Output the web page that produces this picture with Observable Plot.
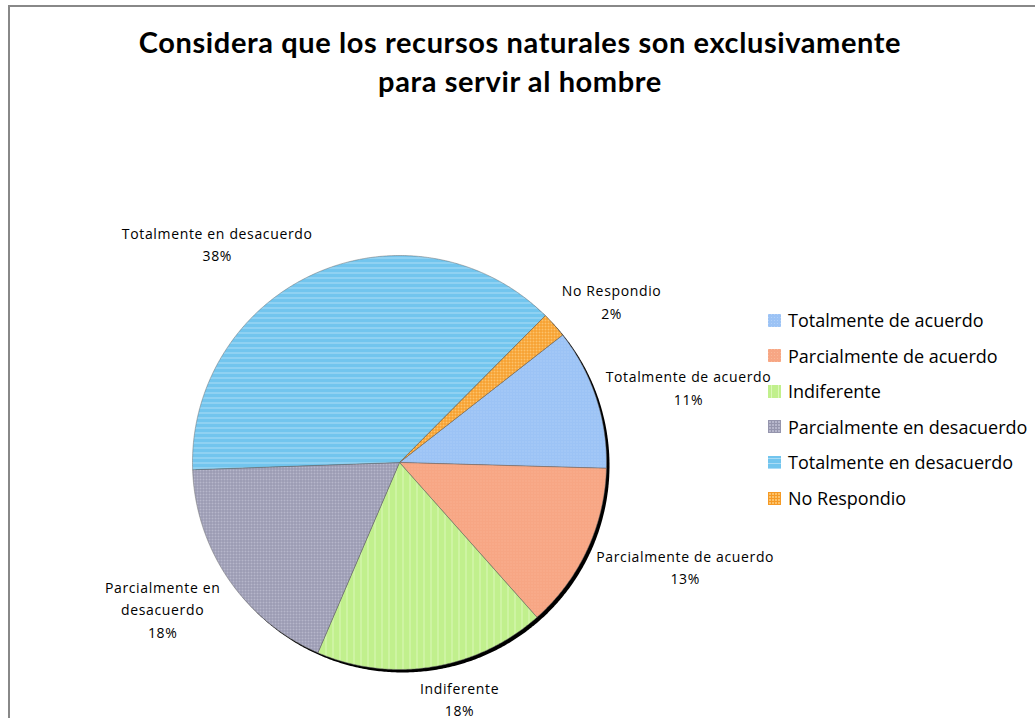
<!DOCTYPE html>
<html>
<head>
<meta charset="utf-8">
<script src="https://cdn.jsdelivr.net/npm/d3@7"></script>
<script src="https://cdn.jsdelivr.net/npm/@observablehq/plot@0.6"></script>
<style>
  html, body { margin: 0; padding: 0; width: 1035px; height: 718px; overflow: hidden; background: #fff; }
  #frame { position: absolute; left: 8px; top: 5px; width: 1100px; height: 800px; border-left: 2px solid #888; border-top: 2px solid #888; box-sizing: border-box; }
  #title { position: absolute; left: 0; width: 1040px; top: 22px; text-align: center; font-family: Lato, "Open Sans", sans-serif; font-weight: 700; font-size: 29px; letter-spacing: 0.6px; line-height: 39px; color: #000; }
  #chart { position: absolute; left: 0; top: 0; }
  #chart text { letter-spacing: 0.65px; }
  #legend { position: absolute; left: 0; top: 0; font-family: "Open Sans", sans-serif; font-size: 18px; color: #000; }
  .row { position: absolute; left: 768px; height: 24px; display: flex; align-items: center; white-space: nowrap; }
  .row svg { margin-right: 7px; }
</style>
</head>
<body>
<svg width="0" height="0" style="position:absolute">
  <defs>
    <pattern id="p0" patternUnits="userSpaceOnUse" width="3" height="3">
      <rect width="3" height="3" fill="#9cc3f5"/>
      <rect width="1" height="1" fill="#b3d1f8"/>
    </pattern>
    <pattern id="p1" patternUnits="userSpaceOnUse" width="3" height="3">
      <rect width="3" height="3" fill="#f7a684"/>
      <rect width="1" height="1" fill="#f9b797"/>
    </pattern>
    <pattern id="p2" patternUnits="userSpaceOnUse" width="7" height="7">
      <rect width="7" height="7" fill="#c1f08d"/>
      <rect x="3" width="1" height="7" fill="#dbf8b8"/>
    </pattern>
    <pattern id="p3" patternUnits="userSpaceOnUse" width="3" height="3">
      <rect width="3" height="3" fill="#b6b6cb"/>
      <rect width="3" height="1" fill="#9595ad"/>
      <rect width="1" height="3" fill="#9595ad"/>
    </pattern>
    <pattern id="p4" patternUnits="userSpaceOnUse" width="5" height="5">
      <rect width="5" height="5" fill="#72c5ee"/>
      <rect y="2" width="5" height="1" fill="#abdcf6"/>
    </pattern>
    <pattern id="p5" patternUnits="userSpaceOnUse" width="3" height="3">
      <rect width="3" height="3" fill="#fcc26a"/>
      <rect width="3" height="1" fill="#f59a25"/>
      <rect width="1" height="3" fill="#f59a25"/>
    </pattern>
  </defs>
</svg>
<div id="frame"></div>
<div id="title">Considera que los recursos naturales son exclusivamente<br>para servir al hombre</div>
<div id="chart"></div>
<div id="legend"></div>
<script>
// ---- data ----
const categories = ["Totalmente de acuerdo", "Parcialmente de acuerdo", "Indiferente", "Parcialmente en desacuerdo", "Totalmente en desacuerdo", "No Respondio"];
const percentages = [11, 13, 18, 18, 38, 2];
const sliceLabels = ["Totalmente de acuerdo", "Parcialmente de acuerdo", "Indiferente", "Parcialmente en\ndesacuerdo", "Totalmente en desacuerdo", "No Respondio"];
const patterns = ["url(#p0)", "url(#p1)", "url(#p2)", "url(#p3)", "url(#p4)", "url(#p5)"];

// ---- layout ----
const W = 1035, H = 718;
const cx = 399, cy = 462, R = 207;
const startDeg = 52;
const labelFont = 14, lineH = 1.6, spacing = 0.65;

const arcs = d3.pie().sort(null).value(d => d)
  .startAngle(startDeg * Math.PI / 180)
  .endAngle(startDeg * Math.PI / 180 + 2 * Math.PI)(percentages);

// polygon points for each slice (data units, y up)
const slicePts = [];
arcs.forEach((a, i) => {
  const n = Math.max(4, Math.ceil((a.endAngle - a.startAngle) / (Math.PI / 360)));
  slicePts.push({i, x: 0, y: 0});
  for (let k = 0; k <= n; k++) {
    const t = a.startAngle + (a.endAngle - a.startAngle) * k / n;
    slicePts.push({i, x: Math.sin(t), y: Math.cos(t)});
  }
  slicePts.push({i, x: 0, y: 0});
});
const circlePts = d3.range(0, 721).map(k => ({x: Math.sin(k * Math.PI / 360), y: Math.cos(k * Math.PI / 360)}));

// label positions
const ctx = document.createElement("canvas").getContext("2d");
ctx.font = `${labelFont}px "Open Sans"`;
const clamp = v => Math.max(-1, Math.min(1, v));
const labels = arcs.map((a, i) => {
  const text = `${sliceLabels[i]}\n${percentages[i]}%`;
  const lines = text.split("\n");
  const w = d3.max(lines, l => ctx.measureText(l).width + l.length * spacing);
  const h = lines.length * 21;
  const m = (a.startAngle + a.endAngle) / 2;
  const ra = R + 10;
  const px = ra * Math.sin(m) + clamp(4 * Math.sin(m)) * w / 2;
  const py = -ra * Math.cos(m) - clamp(1.3 * Math.cos(m)) * h / 2;
  return {text, x: px / R, y: -py / R};
});

const plot = Plot.plot({
  width: W, height: H,
  marginLeft: cx - R, marginRight: W - (cx + R),
  marginTop: cy - R, marginBottom: H - (cy + R),
  x: {domain: [-1, 1], axis: null},
  y: {domain: [-1, 1], axis: null},
  color: {type: "identity"},
  style: {background: "transparent", overflow: "visible"},
  marks: [
    Plot.line(circlePts, {x: "x", y: "y", fill: "#000", stroke: "none", dx: 3, dy: 3}),
    Plot.line(slicePts, {x: "x", y: "y", z: "i", fill: d => patterns[d.i], stroke: "#6a6a6a", strokeWidth: 0.6, strokeOpacity: 0.8}),
    Plot.text(labels, {x: "x", y: "y", text: "text", fontSize: labelFont, fontFamily: "Open Sans", lineHeight: lineH, textAnchor: "middle", lineAnchor: "middle", fill: "#000"})
  ]
});
document.getElementById("chart").appendChild(plot);

// legend
const legend = d3.select("#legend");
categories.forEach((c, i) => {
  const row = legend.append("div").attr("class", "row").style("top", (320 + i * 35.6 - 12) + "px");
  row.append("svg").attr("width", 13).attr("height", 13)
    .append("rect").attr("width", 13).attr("height", 13).attr("fill", patterns[i]);
  row.append("span").text(c);
});
</script>
</body>
</html>
